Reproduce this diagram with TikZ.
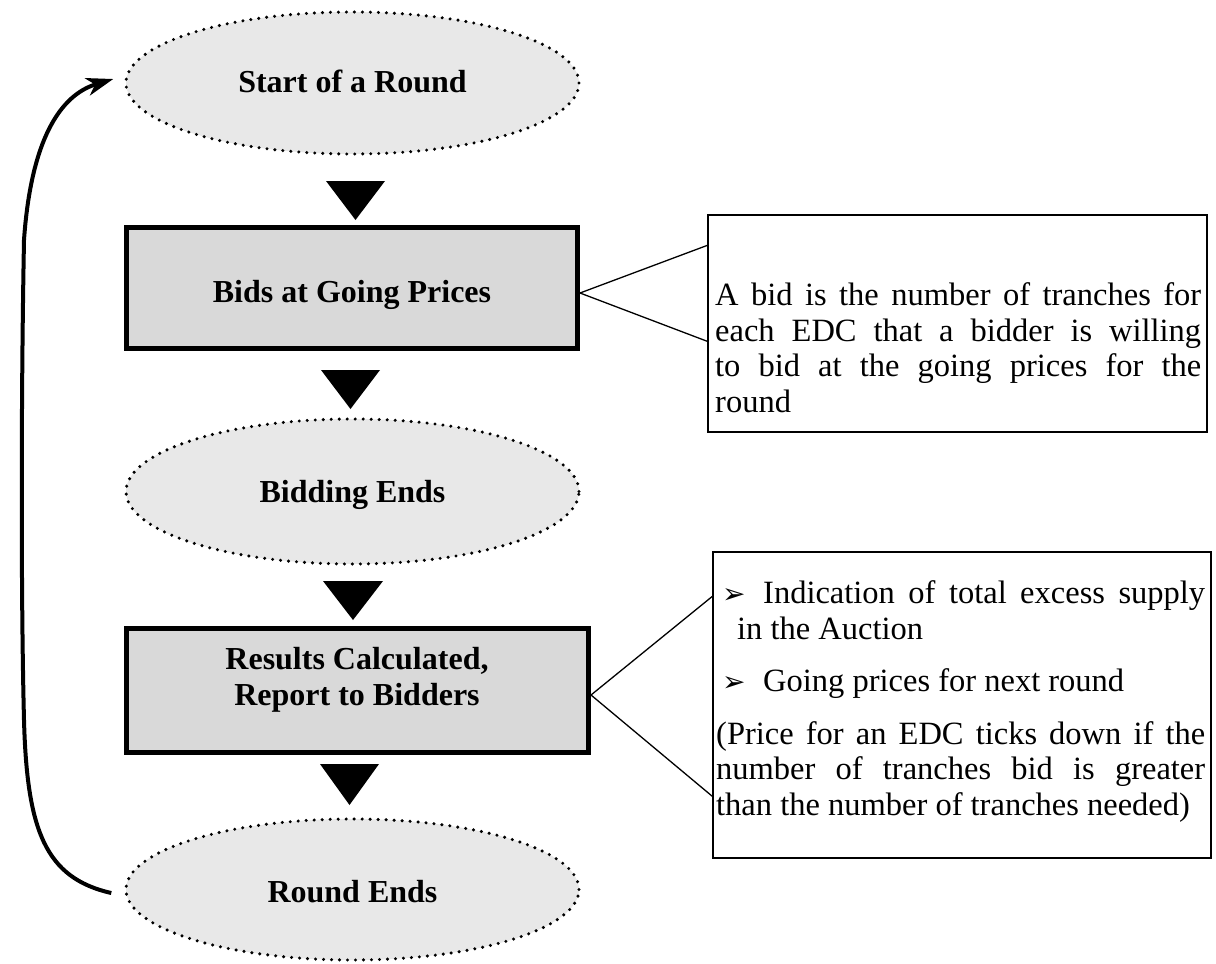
\documentclass[tikz,border=0pt]{standalone}
\usepackage{fontspec}
\setmainfont{Liberation Serif}
\newfontfamily\dejavu{DejaVu Sans}
\usetikzlibrary{arrows.meta,shapes.geometric}
\definecolor{ellfill}{HTML}{E8E8E8}
\definecolor{boxfill}{HTML}{D9D9D9}
\newcommand{\arrowbullet}{{\dejavu\fontsize{28pt}{28pt}\selectfont ➢}}
\begin{document}
\begin{tikzpicture}[x=1pt,y=-1pt,
  ell/.style={ellipse, draw=black, fill=ellfill, line width=3.4pt,
    dash pattern=on 0pt off 8pt, line cap=round, inner sep=0pt,
    minimum width=453pt, text depth=0pt,
    font=\bfseries\fontsize{32pt}{35.5pt}\selectfont},
  proc/.style={rectangle, draw=black, fill=boxfill, line width=5pt,
    inner sep=0pt, align=center,
    font=\bfseries\fontsize{32pt}{35.5pt}\selectfont},
  proctext/.style={inner sep=0pt, align=center,
    font=\bfseries\fontsize{32pt}{35.5pt}\selectfont},
  callbox/.style={rectangle, draw=black, line width=1.3pt, inner sep=0pt},
  calltext/.style={anchor=north west, inner sep=0pt, align=justify,
    font=\fontsize{32.5pt}{35.5pt}\selectfont},
  callline/.style={line width=1.3pt},
  blockarrow/.style={fill=black},
  loopline/.style={line width=4pt, -{Stealth[length=27pt,width=18pt,inset=8pt]}}
]
\useasboundingbox (0,0) rectangle (1216,964);

% main flow
\node[ell, minimum height=142pt, text height=18pt] (s) at (352.5,83) {Start of a Round};
\node[proc, minimum width=451pt, minimum height=121pt, text height=28pt, text depth=0pt] (r1) at (352,288) {Bids at Going Prices};
\node[ell, minimum height=145pt, text height=21pt] (be) at (352.5,491.5) {Bidding Ends};
\node[proc, minimum width=462pt, minimum height=124pt] (r2) at (357.5,690.5) {};
\node[proctext] (r2t) at (357,680) {Results Calculated,\\Report to Bidders};
\node[ell, minimum height=141pt, text height=25pt] (re) at (352.5,889.5) {Round Ends};

% block arrows
\fill[blockarrow] (326,181) -- (385,181) -- (355.5,220) -- cycle;
\fill[blockarrow] (321,370) -- (380,370) -- (350.5,409) -- cycle;
\fill[blockarrow] (323,581) -- (383,581) -- (353,620) -- cycle;
\fill[blockarrow] (320,764) -- (379,764) -- (349.5,805) -- cycle;

% loop back arrow
\draw[loopline] ([xshift=-13pt,yshift=-3.5pt]re.west)
  .. controls (45,878) and (27,830) .. (24,720)
  .. controls (21,600) and (21,400) .. (24,240)
  .. controls (31,140) and (60,95) .. ([xshift=-11pt,yshift=4pt]s.west);

% callout 1
\node[callbox, minimum width=499pt, minimum height=217pt] (c1) at (957.5,323.5) {};
\node[calltext, text width=486pt] (c1t) at (715,282.5) {A bid is the number of tranches for\linebreak each EDC that a bidder is willing\linebreak to bid at the going prices for the\linebreak round};
\draw[callline] ([yshift=-5pt]r1.east) -- ([yshift=-31pt]c1.north west);
\draw[callline] ([yshift=-5pt]r1.east) -- ([yshift=-127pt]c1.north west);

% callout 2
\node[callbox, minimum width=498pt, minimum height=306pt] (c2) at (962,705) {};
\node[calltext, text width=489pt] (c2t) at (716,580.5) {\setlength{\parindent}{0pt}\setlength{\parskip}{17pt}%
\hspace*{6pt}\makebox[41pt][l]{\arrowbullet}\hangindent=21pt\hangafter=1 Indication of total excess supply\linebreak in the Auction\par
\hspace*{6pt}\makebox[41pt][l]{\arrowbullet}Going prices for next round\par
(Price for an EDC ticks down if the\linebreak number of tranches bid is greater\linebreak than the number of tranches needed)};
\draw[callline] ([yshift=-4.5pt]r2.east) -- ([yshift=-45pt]c2.north west);
\draw[callline] ([yshift=-4.5pt]r2.east) -- ([yshift=-245pt]c2.north west);
\end{tikzpicture}
\end{document}
